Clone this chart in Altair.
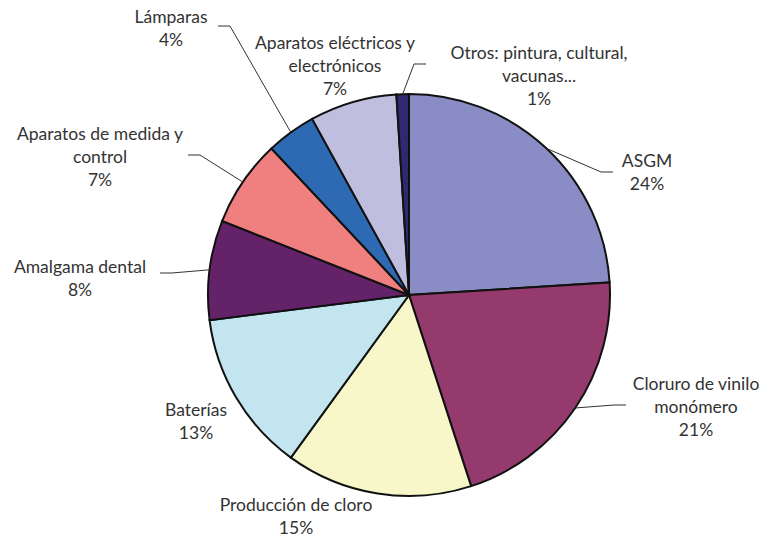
import altair as alt
import pandas as pd

# ---- data ----
categories = [
    "ASGM",
    "Cloruro de vinilo\nmonómero",
    "Producción de cloro",
    "Baterías",
    "Amalgama dental",
    "Aparatos de medida y\ncontrol",
    "Lámparas",
    "Aparatos eléctricos y\nelectrónicos",
    "Otros: pintura, cultural,\nvacunas...",
]
values = [24, 21, 15, 13, 8, 7, 4, 7, 1]
colors = ["#8A8DC5", "#953A6D", "#F7F7C9", "#C3E5EF", "#642369",
          "#F08080", "#2E69B3", "#C0BEDE", "#2F2A70"]

# ---- layout (chart pixel coordinates) ----
CX, CY, R = 401, 287, 201
label_x = [639, 688, 288, 188, 72, 92, 163, 327, 531]
label_y = [154, 377, 498, 403, 260, 127, 10, 36, 46]   # first-line centre
leader_end_x = [605, 618, None, None, 152, 180, 210, None, 418]
leader_end_y = [164, 397, None, None, 265, 147, 18, None, 56]
leader_side = [1, 1, 0, 0, -1, -1, -1, 0, 1]

df = pd.DataFrame({
    "idx": list(range(len(categories))),
    "category": categories,
    "value": values,
    "label": [c + "\n" + f"{v}%" for c, v in zip(categories, values)],
    "lx": label_x,
    "ly": label_y,
    "ex": leader_end_x,
    "ey": leader_end_y,
    "side": leader_side,
})

base = alt.Chart(df)

pie = base.mark_arc(radius=R, stroke="#111111", strokeWidth=2).encode(
    theta=alt.Theta("value:Q", stack=True),
    order=alt.Order("idx:Q"),
    color=alt.Color("category:N", scale=alt.Scale(domain=categories, range=colors), legend=None),
    x=alt.value(CX),
    y=alt.value(CY),
)

lead = base.transform_joinaggregate(
    total="sum(value)"
).transform_window(
    cum="sum(value)", sort=[alt.SortField("idx")]
).transform_calculate(
    mid="(datum.cum - datum.value/2) / datum.total * 2 * PI",
).transform_calculate(
    sx=f"{CX} + {R} * sin(datum.mid)",
    sy=f"{CY} - {R} * cos(datum.mid)",
    bx="datum.ex - datum.side * 12",
).transform_filter("datum.side != 0")

seg1 = lead.mark_rule(color="#333333", strokeWidth=1).encode(
    x=alt.X("sx:Q", scale=None, axis=None),
    y=alt.Y("sy:Q", scale=None, axis=None),
    x2="bx:Q",
    y2="ey:Q",
)
seg2 = lead.mark_rule(color="#333333", strokeWidth=1).encode(
    x=alt.X("bx:Q", scale=None, axis=None),
    y=alt.Y("ey:Q", scale=None, axis=None),
    x2="ex:Q",
    y2="ey:Q",
)

labels = base.mark_text(
    lineBreak="\n", align="center", baseline="middle",
    font="Lato", fontSize=17.5, lineHeight=23, color="#333333",
).encode(
    x=alt.X("lx:Q", scale=None, axis=None),
    y=alt.Y("ly:Q", scale=None, axis=None),
    text="label:N",
)

chart = alt.layer(pie, seg1, seg2, labels).properties(
    width=751, height=532, autosize=alt.AutoSizeParams(type="none"), padding=0,
).configure_view(stroke=None)

chart.save("out.html", embed_options={"renderer": "svg", "actions": False})
